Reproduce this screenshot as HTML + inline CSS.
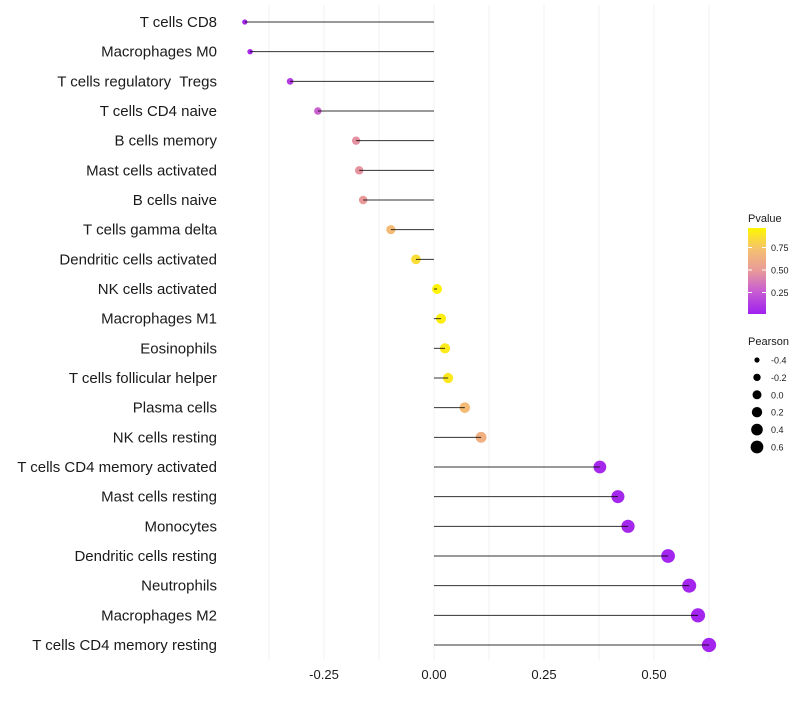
<!DOCTYPE html>
<html><head><meta charset="utf-8">
<style>
body{margin:0;background:#fff;font-family:"Liberation Sans",sans-serif;}
svg text{font-family:"Liberation Sans",sans-serif;white-space:pre;}
</style></head>
<body>
<svg id="chart" width="800" height="700" xmlns="http://www.w3.org/2000/svg">
<defs>
<linearGradient id="pgrad" x1="0" y1="1" x2="0" y2="0">
<stop offset="0" stop-color="#A020F0"/>
<stop offset="0.3" stop-color="#CC66CC"/>
<stop offset="0.5" stop-color="#E8999A"/>
<stop offset="0.75" stop-color="#F5C070"/>
<stop offset="1" stop-color="#FFF700"/>
</linearGradient>
</defs>
<g id="grid"></g>
<g id="marks"></g>
<g id="ylabels"></g>
<g id="xlabels"></g>
<g id="legend"></g>
</svg>
<script>
const categories=["T cells CD8","Macrophages M0","T cells regulatory  Tregs","T cells CD4 naive","B cells memory","Mast cells activated","B cells naive","T cells gamma delta","Dendritic cells activated","NK cells activated","Macrophages M1","Eosinophils","T cells follicular helper","Plasma cells","NK cells resting","T cells CD4 memory activated","Mast cells resting","Monocytes","Dendritic cells resting","Neutrophils","Macrophages M2","T cells CD4 memory resting"];
const pearson=[-0.43,-0.418,-0.327,-0.264,-0.177,-0.17,-0.161,-0.098,-0.041,0.007,0.016,0.025,0.032,0.07,0.107,0.377,0.418,0.441,0.532,0.58,0.6,0.625];
const pvalues=[0.03,0.04,0.12,0.28,0.47,0.48,0.5,0.72,0.88,0.98,0.96,0.94,0.93,0.72,0.65,0.04,0.03,0.03,0.02,0.02,0.02,0.02];
const xTicks=[-0.25,0,0.25,0.5];
const xTickLabels=["-0.25","0.00","0.25","0.50"];
const gridVals=[-0.375,-0.25,-0.125,0,0.125,0.25,0.375,0.5,0.625];
const pTicks=[0.25,0.5,0.75];
const pTickLabels=["0.25","0.50","0.75"];
const sizeVals=[-0.4,-0.2,0,0.2,0.4,0.6];
const sizeLabels=["-0.4","-0.2","0.0","0.2","0.4","0.6"];

const NS="http://www.w3.org/2000/svg";
const x=v=>434+v*440;
const y=i=>22+i*(623/21);
const r=v=>Math.sqrt(Math.max(1,25+42*v));
const stops=[[0,[160,32,240]],[0.3,[204,102,204]],[0.5,[232,153,154]],[0.75,[245,192,112]],[1,[255,247,0]]];
function col(p){for(let k=1;k<stops.length;k++){if(p<=stops[k][0]){const a=stops[k-1],b=stops[k];const t=(p-a[0])/(b[0]-a[0]);const c=a[1].map((v,j)=>Math.round(v+(b[1][j]-v)*t));return `rgb(${c})`;}}return "rgb(255,247,0)";}
function mk(tag,attrs,parent){const e=document.createElementNS(NS,tag);for(const k in attrs)e.setAttribute(k,attrs[k]);parent.appendChild(e);return e;}
const grid=document.getElementById('grid'),marks=document.getElementById('marks'),yl=document.getElementById('ylabels'),xl=document.getElementById('xlabels'),lg=document.getElementById('legend');
gridVals.forEach(v=>{const l=mk('line',{x1:x(v),x2:x(v),y1:5,y2:660,stroke:'#F2F2F2','stroke-width':1},grid);

});
categories.forEach((c,i)=>{
 const ci=mk('circle',{cx:x(pearson[i]),cy:y(i),r:r(pearson[i]),fill:col(pvalues[i])},marks);
 
 
 const ln=mk('line',{x1:x(pearson[i]),x2:x(0),y1:y(i),y2:y(i),stroke:'#000','stroke-width':1,'stroke-opacity':0.8},marks);
 
 
 const t=mk('text',{x:217,y:y(i)+5,'text-anchor':'end','font-size':15,fill:'#1a1a1a'},yl);t.textContent=c;
 
 
});
xTicks.forEach((v,i)=>{const t=mk('text',{x:x(v),y:679,'text-anchor':'middle','font-size':13,fill:'#1a1a1a'},xl);t.textContent=xTickLabels[i];

});
const pt=mk('text',{x:748,y:222,'font-size':11,fill:'#1a1a1a'},lg);pt.textContent='Pvalue';


const bar=mk('rect',{x:748,y:228,width:18,height:86,fill:'url(#pgrad)'},lg);


const py=p=>315-p*90;
pTicks.forEach((p,i)=>{mk('line',{x1:748,x2:752,y1:py(p),y2:py(p),stroke:'#fff','stroke-width':1},lg);mk('line',{x1:762,x2:766,y1:py(p),y2:py(p),stroke:'#fff','stroke-width':1},lg);
const t=mk('text',{x:771,y:py(p)+3.5,'font-size':9,fill:'#1a1a1a'},lg);t.textContent=pTickLabels[i];

});
const st=mk('text',{x:748,y:345,'font-size':11,fill:'#1a1a1a'},lg);st.textContent='Pearson';


const lr=[2.5,4,5,5.6,6.3,7];
sizeVals.forEach((v,i)=>{const cy=360+i*17.4;const c=mk('circle',{cx:757,cy:cy,r:r(v)*0.9,fill:'#000'},lg);


const t=mk('text',{x:771,y:cy+3.5,'font-size':9,fill:'#1a1a1a'},lg);t.textContent=sizeLabels[i];

});
</script>
</body></html>
